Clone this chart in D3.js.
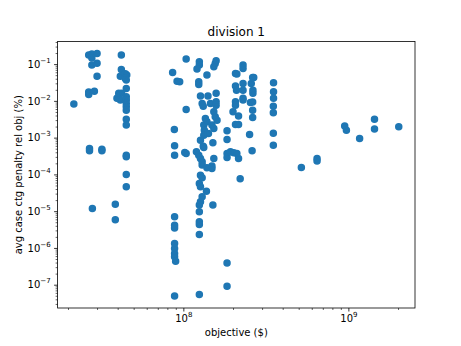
<!DOCTYPE html>
<html>
<head>
<meta charset="utf-8">
<script src="https://cdn.jsdelivr.net/npm/d3@7"></script>
<style>
  body { margin: 0; background: #fff; }
  text { font-family: "DejaVu Sans", sans-serif; }
</style>
</head>
<body>
<svg id="chart" width="461" height="346"></svg>
<script>
const TITLE = 'division 1';
const X_LABEL = 'objective ($)';
const Y_LABEL = 'avg case ctg penalty rel obj (%)';
const X_TICKS = [1e8, 1e9];
const Y_TICKS = [1e-7, 1e-6, 1e-5, 1e-4, 1e-3, 1e-2, 1e-1];

// objective ($)
const objective = [
  2.17e7, 2.67e7, 2.79e7, 3.0e7, 2.79e7, 2.79e7, 3.0e7, 3.0e7, 2.67e7, 2.67e7,
  2.89e7, 2.70e7, 2.70e7, 3.21e7, 3.21e7, 2.81e7, 3.87e7, 3.87e7, 4.21e7, 4.21e7,
  4.15e7, 4.45e7, 4.54e7, 4.45e7, 4.51e7, 4.51e7, 4.06e7, 4.23e7, 4.06e7, 3.96e7,
  4.15e7, 4.51e7, 4.51e7, 4.51e7, 4.51e7, 4.51e7, 4.51e7, 4.51e7, 4.51e7, 4.51e7,
  4.51e7, 4.51e7, 8.61e7, 9.16e7, 9.50e7, 1.04e8, 1.04e8, 8.82e7, 8.85e7, 8.85e7,
  1.02e8, 1.04e8, 8.85e7, 8.85e7, 8.85e7, 8.85e7, 8.85e7, 8.85e7, 8.85e7, 8.98e7,
  8.85e7, 1.25e8, 1.25e8, 1.21e8, 1.58e8, 1.56e8, 1.53e8, 1.39e8, 1.24e8, 1.24e8,
  1.27e8, 1.41e8, 1.58e8, 1.30e8, 1.32e8, 1.46e8, 1.58e8, 1.58e8, 1.53e8, 1.56e8,
  1.60e8, 1.36e8, 1.39e8, 1.33e8, 1.49e8, 1.53e8, 1.34e8, 1.33e8, 1.42e8, 1.27e8,
  1.32e8, 1.33e8, 1.51e8, 1.20e8, 1.24e8, 1.27e8, 1.30e8, 1.30e8, 1.39e8, 1.49e8,
  1.53e8, 1.49e8, 1.27e8, 1.30e8, 1.25e8, 1.27e8, 1.38e8, 1.30e8, 1.27e8, 1.25e8,
  1.25e8, 1.51e8, 1.25e8, 1.25e8, 1.25e8, 1.25e8, 1.84e8, 1.84e8, 1.84e8, 1.84e8,
  1.93e8, 2.02e8, 2.11e8, 2.16e8, 2.21e8, 1.84e8, 1.84e8, 2.30e8, 2.30e8, 2.07e8,
  2.11e8, 2.63e8, 2.67e8, 2.58e8, 2.30e8, 2.07e8, 2.10e8, 2.30e8, 2.64e8, 2.64e8,
  2.30e8, 2.30e8, 2.07e8, 2.07e8, 2.55e8, 2.63e8, 2.0e8, 2.16e8, 2.63e8, 2.63e8,
  2.07e8, 2.16e8, 2.52e8, 2.61e8, 3.52e8, 3.52e8, 3.52e8, 3.51e8, 3.51e8, 3.51e8,
  3.51e8, 5.19e8, 6.46e8, 6.46e8, 9.5e8, 9.73e8, 1.17e9, 1.44e9, 1.44e9, 2.02e9
];

// avg case ctg penalty rel obj (%), same order
const penalty = [
  0.00817, 0.176, 0.187, 0.193, 0.146, 0.094, 0.106, 0.0471, 0.0173, 0.0148,
  0.0184, 0.000508, 0.000443, 0.000486, 0.000438, 1.18e-5, 1.55e-5, 5.87e-6, 0.176, 0.0708,
  0.0471, 0.0551, 0.0502, 0.0408, 0.0367, 0.0218, 0.0160, 0.0160, 0.0129, 0.0117,
  0.0105, 0.0129, 0.0105, 0.00853, 0.00689, 0.0056, 0.00318, 0.00219, 0.000334, 0.0003,
  9.97e-5, 4.58e-5, 0.0594, 0.0344, 0.0330, 0.137, 0.00585, 0.00167, 0.000598, 0.000334,
  0.000396, 0.000371, 7.0e-6, 4.16e-6, 3.51e-6, 1.32e-6, 9.66e-7, 7.06e-7, 5.71e-7, 4.36e-7,
  4.96e-8, 0.116, 0.094, 0.0731, 0.123, 0.104, 0.0845, 0.0502, 0.033, 0.028,
  0.0135, 0.0135, 0.016, 0.00853, 0.00719, 0.00853, 0.00942, 0.00766, 0.00504, 0.00368,
  0.00299, 0.00333, 0.00269, 0.00219, 0.00219, 0.00178, 0.0016, 0.00117, 0.0013, 0.000855,
  0.000587, 0.000541, 0.000722, 0.000411, 0.000334, 0.000272, 0.00022, 0.000179, 0.000151, 0.000168,
  0.000272, 0.000145, 9.55e-5, 8.06e-5, 5.67e-5, 4.58e-5, 3.5e-5, 2.45e-5, 1.79e-5, 1.46e-5,
  9.57e-6, 1.46e-5, 5.12e-6, 4.35e-6, 2.32e-6, 5.41e-8, 0.00153, 0.000893, 0.000371, 0.000289,
  0.000411, 0.000386, 0.000371, 0.000272, 7.57e-5, 3.92e-7, 9.1e-8, 0.094, 0.0764, 0.0558,
  0.0535, 0.0434, 0.0434, 0.0298, 0.0298, 0.0252, 0.0196, 0.0196, 0.0196, 0.016,
  0.0117, 0.0105, 0.00942, 0.00766, 0.00908, 0.00925, 0.00504, 0.00385, 0.0056, 0.00355,
  0.00229, 0.00229, 0.00122, 0.000438, 0.031, 0.0176, 0.0117, 0.00719, 0.00473, 0.00132,
  0.000625, 0.000155, 0.000272, 0.00023, 0.00206, 0.0016, 0.000951, 0.00318, 0.00173, 0.00197
];

const COLOR = '#1f77b4';
const W = 461, H = 346;
const margin = { top: 41.5, right: 46, bottom: 38, left: 57.6 };
const width = W - margin.left - margin.right;
const height = H - margin.top - margin.bottom;

// log domain padded by 5% like matplotlib autoscale
function logDomain(values) {
  const lo = Math.log10(d3.min(values));
  const hi = Math.log10(d3.max(values));
  const pad = (hi - lo) * 0.05;
  return [Math.pow(10, lo - pad), Math.pow(10, hi + pad)];
}

function minorTicks(domain) {
  const out = [];
  const a = Math.floor(Math.log10(domain[0]));
  const b = Math.ceil(Math.log10(domain[1]));
  for (let e = a; e <= b; e++) {
    for (let m = 2; m <= 9; m++) {
      const v = m * Math.pow(10, e);
      if (v >= domain[0] && v <= domain[1]) out.push(v);
    }
  }
  return out;
}

const x = d3.scaleLog().domain(logDomain(objective)).range([0, width]);
const y = d3.scaleLog().domain(logDomain(penalty)).range([height, 0]);

const svg = d3.select('#chart');
const g = svg.append('g')
  .attr('transform', 'translate(' + margin.left + ',' + margin.top + ')');

function supLabels(sel) {
  sel.selectAll('.tick text').each(function (d) {
    const e = Math.round(Math.log10(d));
    const t = d3.select(this).text(null);
    t.append('tspan').text('10');
    t.append('tspan').attr('dy', -5).attr('font-size', 7)
      .text(String(e).replace('-', '\u2212'));
  });
}

function styleAxis(sel) {
  sel.select('.domain').remove();
  sel.selectAll('.tick line').attr('stroke', '#000').attr('stroke-width', 0.8);
  sel.selectAll('.tick text')
    .attr('fill', '#000')
    .attr('font-family', '"DejaVu Sans", sans-serif')
    .attr('font-size', 10);
}

// minor ticks
g.append('g')
  .attr('transform', 'translate(0,' + height + ')')
  .call(d3.axisBottom(x).tickValues(minorTicks(x.domain())).tickSize(2).tickFormat(''))
  .call(styleAxis)
  .call(s => s.selectAll('.tick line').attr('stroke-width', 0.6));
g.append('g')
  .call(d3.axisLeft(y).tickValues(minorTicks(y.domain())).tickSize(2).tickFormat(''))
  .call(styleAxis)
  .call(s => s.selectAll('.tick line').attr('stroke-width', 0.6));

// major ticks
g.append('g')
  .attr('transform', 'translate(0,' + height + ')')
  .call(d3.axisBottom(x).tickValues(X_TICKS).tickSize(3.5).tickPadding(3.5))
  .call(styleAxis)
  .call(supLabels);
g.append('g')
  .call(d3.axisLeft(y).tickValues(Y_TICKS).tickSize(3.5).tickPadding(3.5))
  .call(styleAxis)
  .call(supLabels);

// points
g.append('g')
  .selectAll('circle')
  .data(objective.map((v, i) => [v, penalty[i]]))
  .enter()
  .append('circle')
  .attr('cx', d => x(d[0]))
  .attr('cy', d => y(d[1]))
  .attr('r', 3)
  .attr('fill', COLOR)
  .attr('stroke', COLOR)
  .attr('stroke-width', 1.5);

// frame
g.append('rect')
  .attr('width', width)
  .attr('height', height)
  .attr('fill', 'none')
  .attr('stroke', '#000')
  .attr('stroke-width', 0.8);

// texts
svg.append('text')
  .attr('x', margin.left + width / 2)
  .attr('y', 35.5)
  .attr('text-anchor', 'middle')
  .attr('font-size', 12)
  .text(TITLE);

svg.append('text')
  .attr('x', margin.left + width / 2)
  .attr('y', 336)
  .attr('text-anchor', 'middle')
  .attr('font-size', 10)
  .text(X_LABEL);

svg.append('text')
  .attr('transform', 'translate(22,' + (margin.top + height / 2) + ') rotate(-90)')
  .attr('text-anchor', 'middle')
  .attr('font-size', 10)
  .text(Y_LABEL);
</script>
</body>
</html>
